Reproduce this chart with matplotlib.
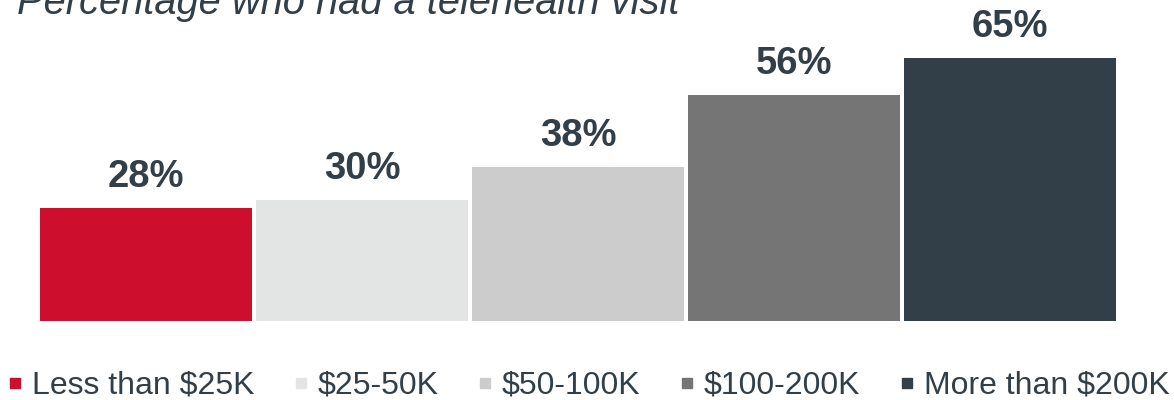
import matplotlib
matplotlib.use("Agg")
import matplotlib.pyplot as plt
from matplotlib.lines import Line2D

plt.rcParams["font.family"] = ["Liberation Sans", "DejaVu Sans"]

# data
groups = ["Less than $25K", "$25-50K", "$50-100K", "$100-200K", "More than $200K"]
values = [28, 30, 38, 56, 65]
colors = ["#CE0E2D", "#E3E5E4", "#CCCCCC", "#757575", "#333F48"]
text_color = "#333F48"

fig = plt.figure(figsize=(11.74, 4), dpi=100)
ax = fig.add_axes([38.2 / 1174, 79.3 / 400, 1079.6 / 1174, 320.7 / 400])

x = list(range(len(values)))
bars = ax.bar(x, values, width=0.98, color=colors)

for b, v in zip(bars, values):
    ax.annotate(f"{v}%", (b.get_x() + b.get_width() / 2, v),
                xytext=(0, 15), textcoords="offset points",
                ha="center", va="baseline", fontsize=27.5,
                fontweight="bold", color=text_color)

ax.set_xlim(-0.5, len(values) - 0.5)
ax.set_ylim(0, 79.4)
ax.axis("off")

# title, cut at the top like the original
fig.text(17 / 1174, 1 - 14 / 400, "Percentage who had a telehealth visit",
         fontsize=28.7, style="italic", color=text_color, va="baseline")

handles = [Line2D([], [], marker="s", linestyle="none", markersize=7.2,
                  color=c) for c in colors]
fig.legend(handles, groups, loc="center left",
           bbox_to_anchor=(7 / 1174, 0.035), ncol=5, frameon=False,
           fontsize=23, handlelength=0.5, handletextpad=0.28,
           columnspacing=1.2, borderpad=0, borderaxespad=0,
           labelcolor=text_color)

fig.savefig("out.png", dpi=100)
